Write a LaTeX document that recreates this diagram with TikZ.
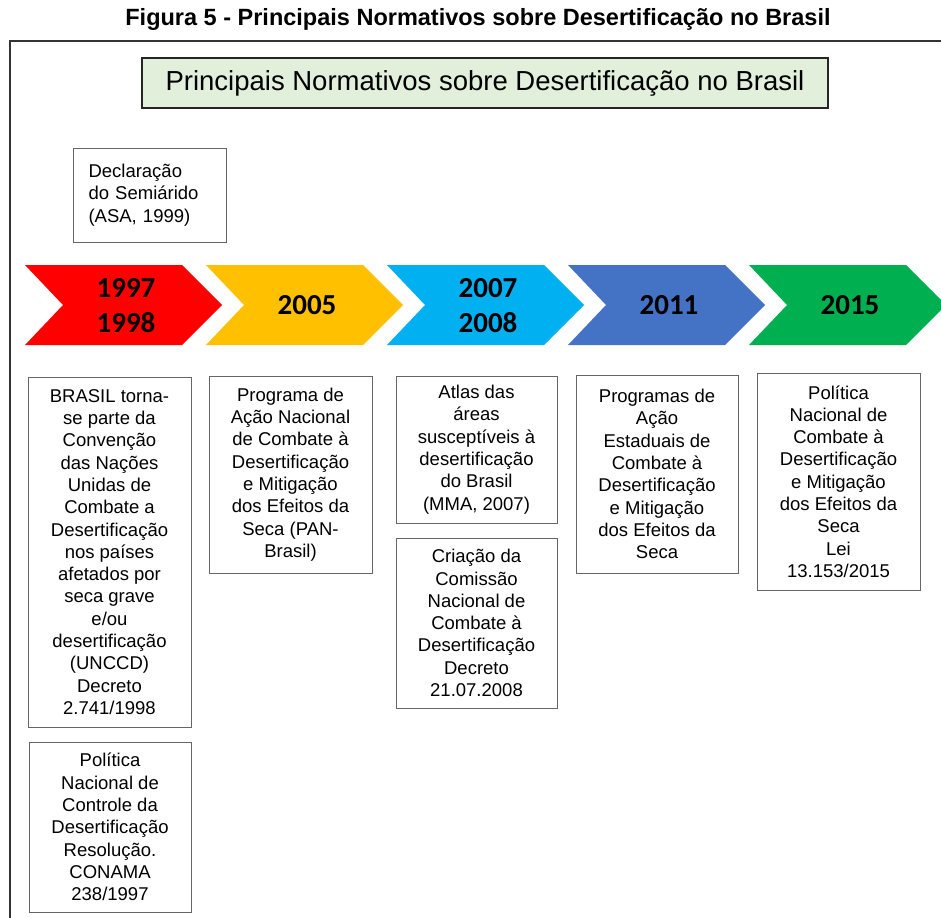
\documentclass[tikz,border=0pt]{standalone}
\usepackage{fontspec}
\setmainfont{Liberation Sans}
\newfontfamily\yearfont{Carlito}
\definecolor{chred}{HTML}{FF0000}
\definecolor{chyellow}{HTML}{FFC000}
\definecolor{chcyan}{HTML}{00B0F0}
\definecolor{chblue}{HTML}{4472C4}
\definecolor{chgreen}{HTML}{00B050}
\definecolor{titlegreen}{HTML}{E2EFDA}
\begin{document}
\begin{tikzpicture}[x=1pt, y=-1pt,
  box/.style={draw=black!60,line width=0.8pt,fill=white,align=center,inner sep=0pt,
    font=\fontsize{18.5}{22.3}\selectfont},
  year/.style={font=\yearfont\bfseries\fontsize{29}{35}\selectfont,align=center,text=black}]
\useasboundingbox (0,0) rectangle (941,917);
\clip (0,0) rectangle (941,917);
% caption and frame
\node[font=\bfseries\fontsize{23.5}{28}\selectfont] (caption) at (478,19) {Figura 5 - Principais Normativos sobre Desertificação no Brasil};
\draw[line width=1.6pt,black!80] (10,41) rectangle (960,940);
\node[draw=black!85,line width=2.8pt,fill=titlegreen,minimum width=686pt,minimum height=50pt,
  font=\fontsize{27.5}{32}\selectfont] (title) at (485,83) {Principais Normativos sobre Desertificação no Brasil};
\node[draw=black!60,line width=0.8pt,text width=122pt,align=left,inner xsep=15.5pt,inner ysep=0pt,
  minimum height=94pt,font=\fontsize{18.5}{22.3}\selectfont] (asa) at (149.5,195) {Declaração\\do Semiárido\\(ASA, 1999)};
% timeline
\fill[chred] (25,265) -- ++(157,0) -- ++(40,40) -- ++(-40,40) -- ++(-157,0) -- ++(38,-40) -- cycle;
\fill[chyellow] (206,265) -- ++(157,0) -- ++(40,40) -- ++(-40,40) -- ++(-157,0) -- ++(38,-40) -- cycle;
\fill[chcyan] (387,265) -- ++(157,0) -- ++(40,40) -- ++(-40,40) -- ++(-157,0) -- ++(38,-40) -- cycle;
\fill[chblue] (568,265) -- ++(157,0) -- ++(40,40) -- ++(-40,40) -- ++(-157,0) -- ++(38,-40) -- cycle;
\fill[chgreen] (749,265) -- ++(157,0) -- ++(40,40) -- ++(-40,40) -- ++(-157,0) -- ++(38,-40) -- cycle;
\node[year] (y1997) at (126,306) {1997\\1998};
\node[year] (y2005) at (307,305) {2005};
\node[year] (y2007) at (488,306) {2007\\2008};
\node[year] (y2011) at (669,305) {2011};
\node[year] (y2015) at (850,305) {2015};
% boxes
\node[box,minimum width=163pt,minimum height=350pt] (uncdd) at (109.5,552) {BRASIL torna-\\se parte da\\Convenção\\das Nações\\Unidas de\\Combate a\\Desertificação\\nos países\\afetados por\\seca grave\\e/ou\\desertificação\\(UNCCD)\\Decreto\\2.741/1998};
\node[box,minimum width=162pt,minimum height=170pt] (conama) at (110,827) {Política\\Nacional de\\Controle da\\Desertificação\\Resolução.\\CONAMA\\238/1997};
\node[box,minimum width=163pt,minimum height=197pt] (panbr) at (290.5,474.5) {Programa de\\Ação Nacional\\de Combate à\\Desertificação\\e Mitigação\\dos Efeitos da\\Seca (PAN-\\Brasil)};
\node[box,minimum width=161pt,minimum height=147pt] (atlas) at (476.5,449.5) {Atlas das\\áreas\\susceptíveis à\\desertificação\\do Brasil\\(MMA, 2007)};
\node[box,minimum width=161pt,minimum height=170pt] (comissao) at (476.5,623) {Criação da\\Comissão\\Nacional de\\Combate à\\Desertificação\\Decreto\\21.07.2008};
\node[box,minimum width=162pt,minimum height=198pt] (estaduais) at (657,474) {Programas de\\Ação\\Estaduais de\\Combate à\\Desertificação\\e Mitigação\\dos Efeitos da\\Seca};
\node[box,minimum width=163pt,minimum height=217pt] (lei) at (838.5,481.5) {Política\\Nacional de\\Combate à\\Desertificação\\e Mitigação\\dos Efeitos da\\Seca\\Lei\\13.153/2015};
\end{tikzpicture}
\end{document}
